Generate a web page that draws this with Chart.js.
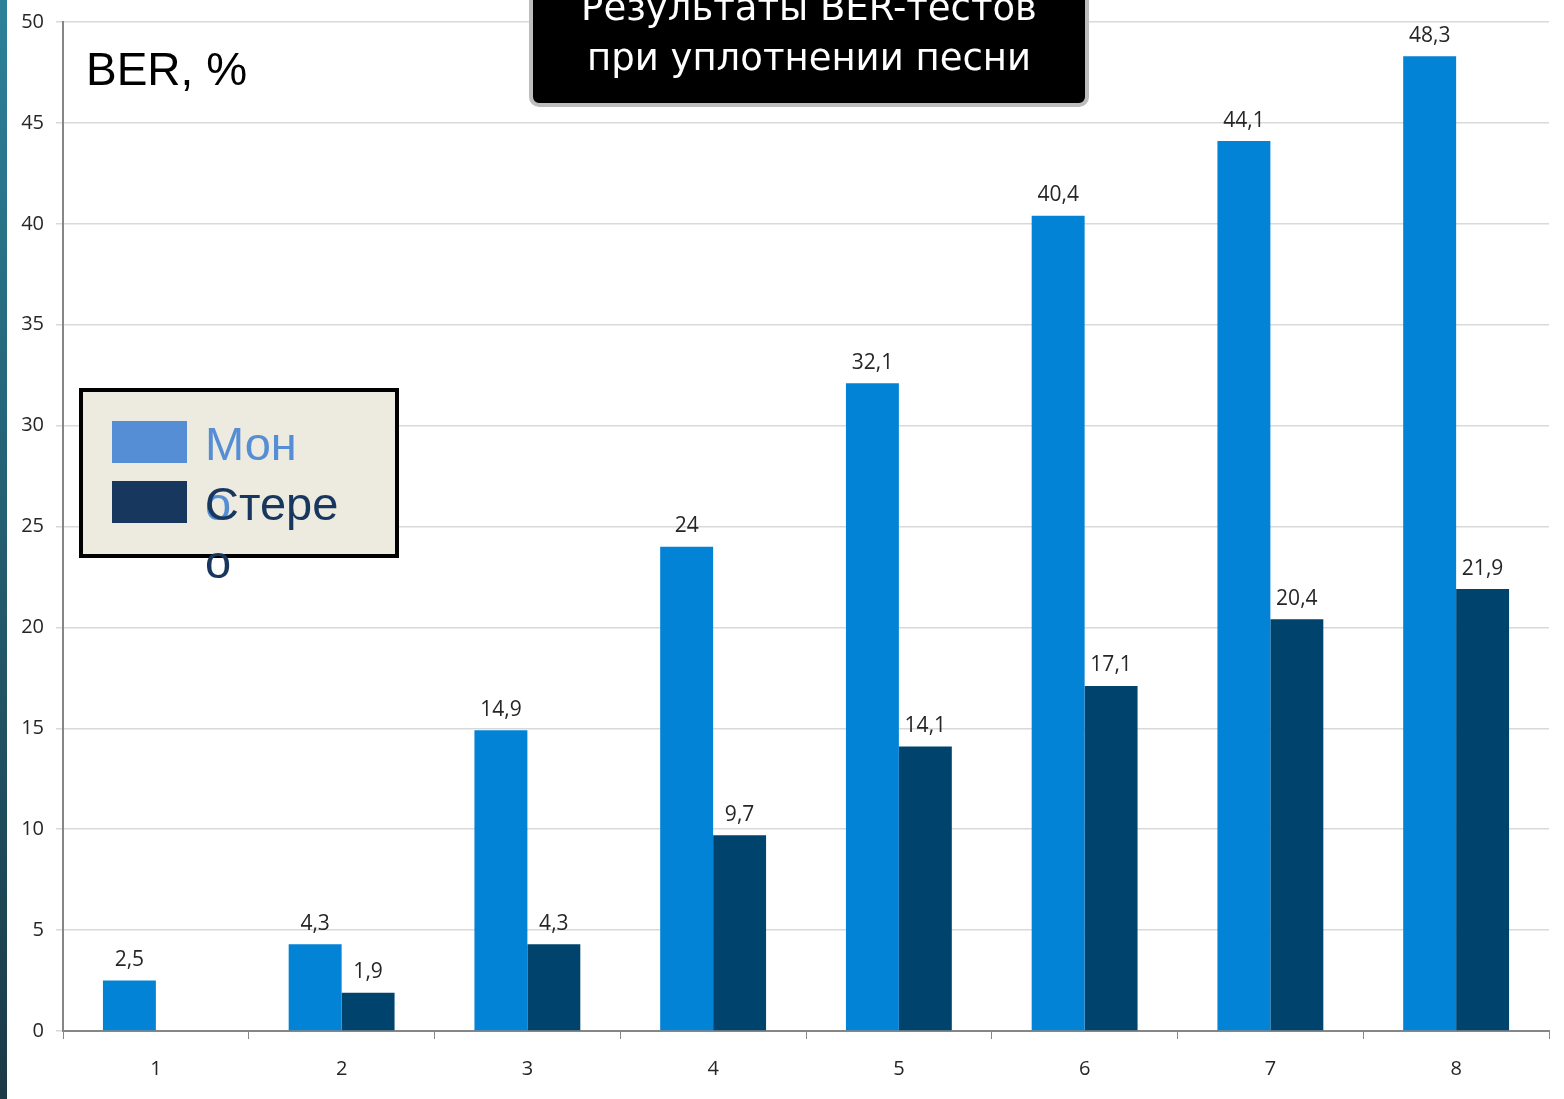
<!DOCTYPE html>
<html lang="ru">
<head>
  <meta charset="UTF-8">
  <title>Результаты BER-тестов</title>
  <script src="https://cdn.jsdelivr.net/npm/chart.js"></script>
  <style>
    html, body { margin: 0; padding: 0; background: #fff; }
    #wrap { position: relative; width: 1564px; height: 1099px; overflow: hidden; }
    #strip { position: absolute; left: 0; top: 0; width: 7px; height: 1099px;
             background: linear-gradient(#2c8199, #1a3946); }
    #grafico { position: absolute; left: 0; top: 0; }
  </style>
</head>
<body>
<div id="wrap">
  <canvas id="grafico" width="1564" height="1099"></canvas>
  <div id="strip"></div>
</div>
<script>
  // данные
  const categorias = ['1', '2', '3', '4', '5', '6', '7', '8'];
  const mono = [2.5, 4.3, 14.9, 24, 32.1, 40.4, 44.1, 48.3];
  const stereo = [null, 1.9, 4.3, 9.7, 14.1, 17.1, 20.4, 21.9];
  const tituloLinhas = ['Результаты BER-тестов', 'при уплотнении песни'];
  const legendaNomes = ['Моно', 'Стерео'];

  const corMono = '#0283d5';
  const corStereo = '#00446e';

  // подписи над столбцами
  const rotulos = {
    id: 'rotulos',
    afterDatasetsDraw(chart) {
      const c = chart.ctx;
      c.save();
      c.font = '21px "Open Sans", "DejaVu Sans", sans-serif';
      c.fillStyle = '#262626';
      c.textAlign = 'center';
      c.textBaseline = 'bottom';
      chart.data.datasets.forEach((ds, i) => {
        chart.getDatasetMeta(i).data.forEach((bar, j) => {
          const v = ds.data[j];
          if (v == null) return;
          c.fillText(String(v).replace('.', ','), bar.x, bar.y - 10);
        });
      });
      c.restore();
    }
  };

  // заголовок, "BER, %" и легенда
  const decor = {
    id: 'decor',
    afterDraw(chart) {
      const c = chart.ctx;
      c.save();
      // BER, %
      c.fillStyle = '#000';
      c.font = '46px "Liberation Sans", Arial, sans-serif';
      c.textBaseline = 'alphabetic';
      c.textAlign = 'left';
      c.fillText('BER, %', 86, 85);

      // чёрный блок заголовка
      c.beginPath();
      c.roundRect(531, -20, 556, 125, 8);
      c.fillStyle = '#000';
      c.fill();
      c.lineWidth = 4;
      c.strokeStyle = '#bdbdbd';
      c.stroke();
      c.fillStyle = '#fff';
      c.font = '37px "DejaVu Sans", sans-serif';
      c.textAlign = 'center';
      c.fillText(tituloLinhas[0], 809, 20);
      c.fillText(tituloLinhas[1], 809, 70);

      // легенда
      c.fillStyle = '#edeae0';
      c.fillRect(81, 390, 316, 166);
      c.lineWidth = 4;
      c.strokeStyle = '#000';
      c.strokeRect(81, 390, 316, 166);
      c.fillStyle = '#558ed5';
      c.fillRect(112, 421, 75, 42);
      c.fillStyle = '#17375e';
      c.fillRect(112, 481, 75, 42);
      c.textAlign = 'left';
      c.font = '47px "Liberation Sans", Arial, sans-serif';
      c.fillStyle = '#558ed5';
      c.fillText(legendaNomes[0].slice(0, 3), 205, 460);
      c.fillText(legendaNomes[0].slice(3), 205, 520);
      c.fillStyle = '#17375e';
      c.fillText(legendaNomes[1].slice(0, 5), 205, 520);
      c.fillText(legendaNomes[1].slice(5), 205, 578);
      c.restore();
    }
  };

  new Chart(document.getElementById('grafico'), {
    type: 'bar',
    data: {
      labels: categorias,
      datasets: [
        { label: legendaNomes[0], data: mono, backgroundColor: corMono },
        { label: legendaNomes[1], data: stereo, backgroundColor: corStereo }
      ]
    },
    options: {
      responsive: false,
      animation: false,
      layout: { padding: { top: 20, right: 15, left: 0, bottom: 0 } },
      plugins: { legend: { display: false }, tooltip: { enabled: false } },
      datasets: { bar: { categoryPercentage: 0.57, barPercentage: 1 } },
      scales: {
        x: {
          afterFit(s) { s.height = 68; },
          grid: { offset: true, drawOnChartArea: false, tickLength: 8, color: '#868686' },
          border: { color: '#868686', width: 2 },
          ticks: { color: '#262626', font: { size: 20, family: '"Open Sans", "DejaVu Sans", sans-serif' }, padding: 18 }
        },
        y: {
          min: 0, max: 50,
          afterFit(s) { s.width = 63; },
          grid: { color: '#d9d9d9', lineWidth: 1.5, tickLength: 7 },
          border: { color: '#868686', width: 2 },
          ticks: { stepSize: 5, color: '#262626', font: { size: 20, lineHeight: 1, family: '"Open Sans", "DejaVu Sans", sans-serif' }, padding: 12 }
        }
      }
    },
    plugins: [rotulos, decor]
  });
</script>
</body>
</html>
